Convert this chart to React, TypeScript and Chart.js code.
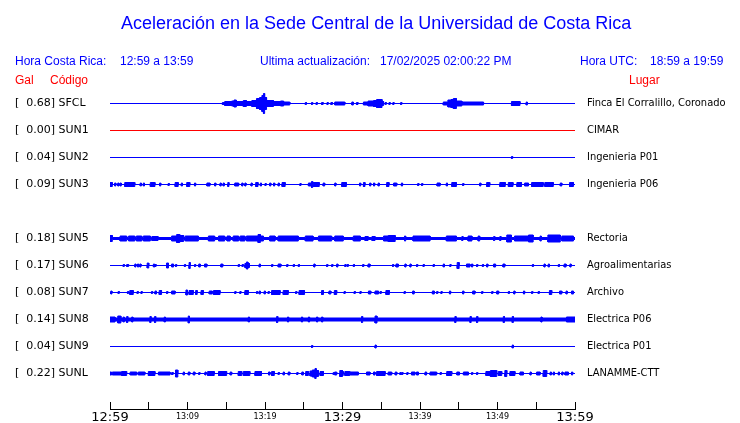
import React, { useEffect, useRef } from 'react';
import { Chart, registerables } from 'chart.js';

Chart.register(...registerables);

// ---- Data ----
const STATION_CODES = ['SFCL', 'SUN1', 'SUN2', 'SUN3', '', 'SUN5', 'SUN6', 'SUN7', 'SUN8', 'SUN9', 'SUNL'];
const PEAK_GAL = ['0.68', '0.00', '0.04', '0.09', '', '0.18', '0.17', '0.08', '0.14', '0.04', '0.22'];
const PLACES = [
  'Finca El Corralillo, Coronado', 'CIMAR', 'Ingenieria P01', 'Ingenieria P06', '',
  'Rectoria', 'Agroalimentarias', 'Archivo', 'Electrica P06', 'Electrica P01', 'LANAMME-CTT',
];
const TIME_TICKS = [0, 5, 10, 15, 20, 25, 30, 35, 40, 45, 50, 55, 60];
const TIME_LABELS = ['12:59', '', '13:09', '', '13:19', '', '13:29', '', '13:39', '', '13:49', '', '13:59'];
const MAJOR_LABELS = ['12:59', '13:29', '13:59'];

// background (quiet) amplitude of each trace
const BASE_AMP = [0, 0, 0, 0, 0, 1, 0, 0, 1.5, 0, 0];

// bursts: [start minute, duration minutes, amplitude]
type Burst = [number, number, number];
const SFCL: Burst[] = [
  [14.5, 0.3, 1], [14.8, 0.9, 2], [15.7, 0.3, 2.5], [16.0, 0.3, 3.5], [16.3, 0.9, 2], [17.2, 0.4, 3],
  [17.6, 0.7, 2], [18.3, 0.6, 3], [18.9, 0.4, 5], [19.3, 0.3, 6], [19.6, 0.2, 8], [19.8, 0.15, 10],
  [19.95, 0.25, 6], [20.2, 0.9, 3], [21.1, 0.9, 2], [22.0, 0.4, 2.5], [22.4, 0.8, 1.5],
  [25.2, 0.15, 1], [26.0, 0.15, 1], [26.6, 0.15, 1], [27.3, 0.2, 1], [28.0, 0.15, 1], [28.5, 0.2, 1],
  [29.0, 1.3, 1.5], [31.2, 0.2, 1.5], [31.8, 0.2, 1], [32.7, 0.6, 1.5], [33.3, 0.7, 2.5], [34.0, 0.4, 3],
  [34.4, 0.7, 4], [35.1, 0.2, 2], [35.5, 0.15, 1], [36.0, 0.15, 1], [36.5, 0.15, 1], [37.5, 0.15, 1],
  [43.0, 0.6, 1.5], [43.6, 0.4, 3.5], [44.0, 0.3, 4], [44.3, 0.4, 5], [44.7, 0.7, 2.5], [45.4, 2.8, 1.5],
  [51.8, 1.1, 2], [53.7, 0.15, 1.5],
];
const SUN1: Burst[] = [];
const SUN2: Burst[] = [[51.8, 0.15, 1]];
const SUN3: Burst[] = [
  [0, 0.3, 2], [0.6, 0.15, 1.5], [1.0, 0.15, 1.5], [1.3, 0.15, 1.5], [1.9, 1.3, 2], [3.9, 0.15, 1.5],
  [4.3, 0.15, 1.5], [5.2, 0.6, 2], [6.4, 0.15, 1.5], [7.5, 0.15, 1], [8.4, 0.4, 2], [9.2, 0.15, 1.5],
  [9.9, 0.4, 2], [10.9, 0.15, 1.5], [12.5, 0.4, 1.5], [13.5, 0.15, 1.5], [14.2, 0.15, 1.5], [14.6, 0.15, 1.5],
  [15.2, 0.15, 2], [16.1, 0.5, 1.5], [17.0, 0.15, 1.5], [17.4, 0.15, 1.5], [18.2, 0.15, 1.5], [18.8, 0.3, 2],
  [19.4, 0.15, 1.5], [20.0, 0.15, 1], [20.6, 0.15, 1.5], [21.1, 0.15, 1.5], [21.7, 0.15, 1.5], [22.2, 0.4, 2],
  [24.5, 0.15, 1], [25.6, 0.4, 1.5], [26.0, 0.15, 3], [26.2, 0.8, 2], [27.5, 0.2, 1.5], [29.0, 0.15, 1.5],
  [29.9, 0.6, 2], [32.2, 0.15, 1.5], [32.7, 0.2, 2], [33.5, 0.15, 1.5], [34.0, 0.15, 1.5], [34.6, 0.15, 1.5],
  [35.7, 0.3, 2], [36.6, 0.4, 1.5], [37.6, 0.15, 1.5], [39.7, 0.15, 1], [40.2, 0.15, 1], [42.2, 0.4, 1.5],
  [43.4, 0.15, 1.5], [44.1, 0.6, 2], [45.5, 0.15, 1], [47.7, 0.15, 1.5], [48.6, 0.4, 2], [50.3, 0.7, 2],
  [51.4, 0.6, 2], [52.5, 0.6, 2], [53.5, 0.5, 1.5], [54.4, 1.5, 2], [56.1, 1.1, 2], [58.1, 0.2, 1.5], [59.3, 0.5, 2],
];
const SUN5: Burst[] = [
  [0, 0.3, 3], [1.3, 0.85, 2.5], [2.4, 0.8, 2.5], [3.4, 0.7, 2.5], [4.3, 0.9, 2.5], [5.4, 0.8, 2],
  [7.95, 0.65, 2.5], [8.6, 0.4, 4], [9.0, 0.5, 3], [9.7, 1.7, 2.5], [12.7, 0.8, 2.5], [14.0, 0.8, 2.5],
  [15.1, 0.4, 2.5], [15.9, 0.7, 2.5], [16.8, 0.6, 2.5], [17.6, 1.5, 2.5], [19.1, 0.3, 4], [19.4, 0.4, 2.5],
  [20.6, 0.7, 2.5], [21.7, 2.6, 2.5], [25.2, 1.0, 2.5], [26.9, 1.7, 2.5], [29.0, 1.1, 2.5], [31.4, 0.9, 2.5],
  [32.9, 0.4, 2], [33.8, 0.4, 2], [35.3, 0.6, 2.5], [35.9, 0.9, 3], [38.0, 0.15, 2.5], [39.1, 2.2, 2.5],
  [43.4, 1.3, 2.5], [45.4, 0.15, 2], [46.2, 0.5, 2.5], [47.5, 0.2, 2.5], [49.5, 0.15, 2], [50.3, 0.15, 2],
  [51.2, 0.6, 3.5], [52.2, 1.8, 2.5], [54.0, 0.6, 3.5], [55.5, 0.15, 2.5], [56.5, 1.6, 3.5], [58.3, 1.5, 2.5],
];
const SUN6: Burst[] = [
  [1.7, 0.15, 1], [2.15, 0.25, 1], [3.2, 0.15, 1.5], [3.55, 0.15, 1.5], [3.85, 0.15, 1.5], [4.8, 0.2, 2.5],
  [5.6, 0.15, 1.5], [5.8, 0.15, 1], [7.3, 0.25, 2.5], [7.95, 0.25, 1.5], [8.45, 0.15, 1], [9.6, 0.15, 1],
  [10.2, 0.15, 3], [10.9, 0.15, 1], [11.45, 0.2, 1.5], [12.2, 0.3, 1.5], [14.3, 0.25, 1.5], [16.55, 0.15, 1],
  [17.05, 0.15, 1], [17.4, 0.2, 2], [17.6, 0.2, 3.5], [17.8, 0.2, 2], [19.25, 0.15, 1.5], [20.85, 0.15, 1],
  [21.7, 0.35, 1.5], [22.8, 0.15, 1], [23.65, 0.15, 1], [24.3, 0.15, 1], [26.3, 0.15, 1.5], [27.95, 0.15, 1],
  [28.6, 0.15, 1], [29.25, 0.15, 1.5], [30.3, 0.15, 1], [30.6, 0.15, 1], [31.4, 0.15, 1], [32.6, 0.15, 1],
  [33.3, 0.25, 1.5], [36.45, 0.15, 1], [36.9, 0.3, 1.5], [38.05, 0.15, 1.5], [38.7, 0.15, 1.5], [39.55, 0.15, 1],
  [40.4, 0.15, 1], [41.7, 0.15, 1], [43.0, 0.15, 1.5], [43.85, 0.15, 1], [44.8, 0.25, 3], [46.0, 0.45, 1.5],
  [46.65, 0.15, 1.5], [47.3, 0.15, 1], [48.05, 0.15, 1], [48.6, 0.15, 1.5], [49.5, 0.25, 1.5], [50.7, 0.25, 1.5],
  [54.5, 0.15, 1], [56.0, 0.15, 1.5], [56.55, 0.15, 1.5], [57.85, 0.15, 1], [58.6, 0.25, 1.5], [59.35, 0.15, 1.5],
];
const SUN7: Burst[] = [
  [0.1, 0.15, 1.5], [1.05, 0.15, 1], [2.25, 0.15, 1], [2.55, 0.45, 2], [3.5, 0.15, 1], [4.0, 0.15, 1],
  [5.35, 0.15, 1], [5.8, 0.2, 1.5], [6.35, 0.3, 2], [7.3, 0.15, 1], [7.95, 0.45, 1.5], [9.8, 0.2, 2.5],
  [10.2, 0.55, 2], [11.05, 0.2, 2], [11.75, 0.3, 2], [12.8, 0.4, 1.5], [13.35, 0.85, 2], [16.1, 0.15, 1],
  [16.75, 0.15, 1], [17.4, 0.45, 2], [18.9, 0.15, 1], [19.25, 0.15, 1.5], [19.9, 0.15, 1.5], [20.4, 0.15, 1],
  [20.85, 1.1, 2], [22.35, 0.65, 2], [23.95, 0.15, 1], [24.4, 0.7, 2], [27.3, 0.25, 2], [28.25, 0.25, 1.5],
  [28.95, 0.3, 2], [30.2, 0.15, 1], [31.5, 0.15, 1], [32.25, 0.15, 1], [33.35, 0.3, 1.5], [34.2, 0.45, 1.5],
  [34.85, 0.15, 1], [35.6, 0.45, 2], [37.95, 0.15, 1], [39.05, 0.2, 1.5], [41.6, 0.25, 1.5], [42.15, 0.15, 1],
  [42.7, 0.15, 1], [43.8, 0.15, 1.5], [45.5, 0.15, 1.5], [46.8, 0.3, 1.5], [47.95, 0.15, 1], [49.25, 0.15, 1],
  [49.9, 0.25, 1.5], [51.4, 0.15, 1], [52.1, 0.15, 1.5], [53.35, 0.15, 1.5], [54.4, 0.15, 1], [55.25, 0.15, 1],
  [56.7, 0.3, 2], [58.0, 0.3, 1.5], [58.85, 0.15, 1.5], [59.55, 0.25, 1.5],
];
const SUN8: Burst[] = [
  [0, 0.65, 2.5], [1.0, 0.4, 3.5], [1.7, 0.15, 2.5], [2.15, 0.15, 3], [2.8, 0.15, 2.5], [5.15, 0.15, 3],
  [5.75, 0.15, 3], [7.0, 0.15, 2.5], [10.1, 0.15, 3.5], [17.85, 0.15, 2.5], [21.5, 0.15, 3], [22.9, 0.15, 2.5],
  [24.7, 0.15, 2.5], [25.6, 0.15, 2.5], [26.65, 0.15, 2.5], [27.3, 0.15, 2.5], [32.45, 0.15, 3], [34.2, 0.25, 3.5],
  [44.5, 0.15, 3], [46.45, 0.15, 3], [47.3, 0.15, 3], [50.75, 0.15, 3], [51.9, 0.15, 3], [55.6, 0.15, 2.5],
  [58.9, 1.1, 2.5],
];
const SUN9: Burst[] = [[26.0, 0.15, 1], [34.2, 0.15, 1.5], [51.9, 0.15, 1.5]];
const SUNL: Burst[] = [
  [0, 0.2, 1.5], [0.3, 1.2, 1.5], [1.5, 0.65, 2], [2.6, 0.85, 1.5], [3.65, 0.85, 1.5], [4.95, 0.85, 2],
  [6.25, 1.5, 1.5], [7.95, 0.2, 1], [8.45, 0.3, 3.5], [9.45, 0.15, 1.5], [10.1, 0.2, 1.5], [10.75, 0.2, 1.5],
  [11.45, 0.15, 1], [12.25, 0.15, 1.5], [12.6, 0.85, 2], [14.0, 1.05, 2], [15.5, 0.2, 1.5], [16.55, 0.45, 2],
  [17.2, 0.85, 2], [18.7, 0.85, 2], [20.45, 0.2, 1.5], [20.85, 0.35, 2], [21.7, 0.15, 1], [22.35, 0.15, 1.5],
  [23.0, 0.2, 1.5], [24.1, 0.15, 1], [24.75, 0.2, 1.5], [25.25, 0.35, 2], [25.8, 0.3, 2.5], [26.1, 0.35, 3.5],
  [26.45, 0.15, 5], [26.6, 0.3, 3], [27.1, 0.45, 2], [28.8, 0.15, 1], [29.0, 0.25, 1.5], [29.65, 0.35, 3],
  [30.0, 0.1, 2], [30.3, 0.65, 2], [31.0, 1.05, 1.5], [33.1, 0.45, 1.5], [34.0, 0.2, 1.5], [34.4, 1.1, 2],
  [35.9, 0.45, 1.5], [36.8, 0.2, 1.5], [37.4, 0.15, 1], [37.65, 0.15, 1], [38.3, 0.15, 1], [38.9, 0.45, 1.5],
  [39.55, 0.25, 1.5], [40.65, 0.2, 1.5], [41.3, 0.85, 1.5], [42.6, 0.15, 1], [43.45, 0.65, 2], [44.75, 0.35, 1.5],
  [45.6, 0.65, 1.5], [46.65, 0.15, 1], [47.3, 0.15, 1], [48.5, 0.55, 2], [49.1, 0.8, 3], [50.1, 0.45, 2],
  [50.95, 0.25, 3], [51.6, 0.65, 2], [52.9, 0.45, 1.5], [54.2, 0.15, 1.5], [55.05, 0.45, 1.5], [55.9, 0.45, 3],
  [56.8, 0.15, 1.5], [57.2, 0.15, 1.5], [57.85, 0.15, 1.5], [58.3, 0.15, 1.5], [58.7, 0.45, 1.5], [59.55, 0.15, 1.5],
];
const TRACES: (Burst[] | null)[] = [SFCL, SUN1, SUN2, SUN3, null, SUN5, SUN6, SUN7, SUN8, SUN9, SUNL];

// ---- Styling ----
const BLUE = '#0000ff';
const RED = '#ff0000';
const TRACE_COLORS = [BLUE, RED, BLUE, BLUE, BLUE, BLUE, BLUE, BLUE, BLUE, BLUE, BLUE];
const ROW_MIN = -0.5;
const ROW_MAX = 319 / 27 - 0.5;
const AMP_UNIT = 1 / 27; // row units per amplitude count
const LABEL_FONT = 'DejaVu Sans';
const PLACE_FONT = '"DejaVu Sans Condensed", "DejaVu Sans"';

function envelope(row: number, bursts: Burst[], base: number, sign: number) {
  const y = (a: number) => row + sign * a * AMP_UNIT;
  const pts: { x: number; y: number }[] = [{ x: 0, y: y(base) }];
  for (const [s, d, a] of bursts) {
    const e = s + d;
    pts.push({ x: s, y: y(base) }, { x: s, y: y(a) }, { x: e, y: y(a) }, { x: e, y: y(base) });
  }
  pts.push({ x: 60, y: y(base) });
  return pts;
}

function fixBox(width: number | null, height: number | null) {
  return (scale: any) => {
    if (width !== null) scale.width = width;
    if (height !== null) scale.height = height;
    scale.paddingTop = 0;
    scale.paddingBottom = 0;
    scale.paddingLeft = 0;
    scale.paddingRight = 0;
  };
}

export default function App() {
  const canvasRef = useRef<HTMLCanvasElement | null>(null);

  useEffect(() => {
    if (!canvasRef.current) return;
    const datasets: any[] = [];
    TRACES.forEach((bursts, row) => {
      if (!bursts) return;
      const color = TRACE_COLORS[row];
      const common = {
        borderColor: color,
        backgroundColor: color,
        borderWidth: 1,
        pointRadius: 0,
        tension: 0,
        yAxisID: 'y',
      };
      datasets.push({ ...common, data: envelope(row, bursts, BASE_AMP[row], -1), fill: false });
      datasets.push({ ...common, data: envelope(row, bursts, BASE_AMP[row], 1), fill: '-1' });
    });

    const rowTicks = (scale: any) => {
      scale.ticks = STATION_CODES.map((_, i) => ({ value: i }));
    };

    const chart = new Chart(canvasRef.current, {
      type: 'line',
      data: { datasets },
      options: {
        animation: false,
        responsive: false,
        devicePixelRatio: 1,
        layout: { padding: { top: 90, left: 15, right: 0, bottom: 0 } },
        plugins: { legend: { display: false }, tooltip: { enabled: false }, title: { display: false } },
        scales: {
          x: {
            type: 'linear',
            min: 0,
            max: 60,
            afterBuildTicks: (scale: any) => {
              scale.ticks = TIME_TICKS.map((v) => ({ value: v }));
            },
            afterFit: fixBox(null, 14),
            border: { display: true, color: '#000', width: 1 },
            grid: { display: true, drawOnChartArea: false, drawTicks: true, tickLength: -7, color: '#000', lineWidth: 1 },
            ticks: {
              autoSkip: false,
              maxRotation: 0,
              padding: 8,
              color: '#000',
              callback: (_v: any, i: number) => TIME_LABELS[i],
              font: (ctx: any) =>
                MAJOR_LABELS.includes(TIME_LABELS[ctx.index])
                  ? { family: LABEL_FONT, size: 13, lineHeight: '16px' }
                  : { family: LABEL_FONT, size: 8, lineHeight: '13px' },
            },
          },
          y: {
            type: 'linear',
            position: 'left',
            reverse: true,
            min: ROW_MIN,
            max: ROW_MAX,
            afterBuildTicks: rowTicks,
            afterFit: fixBox(95, null),
            border: { display: false },
            grid: { display: false, drawTicks: false },
            ticks: {
              crossAlign: 'far',
              padding: 0,
              color: '#000',
              font: { family: LABEL_FONT, size: 11 },
              callback: (_v: any, i: number) => (STATION_CODES[i] ? `[  ${PEAK_GAL[i]}] ${STATION_CODES[i]}` : ''),
            },
          },
          y2: {
            type: 'linear',
            position: 'right',
            reverse: true,
            min: ROW_MIN,
            max: ROW_MAX,
            afterBuildTicks: rowTicks,
            afterFit: fixBox(165, null),
            border: { display: false },
            grid: { display: false, drawTicks: false },
            ticks: {
              padding: 12,
              color: '#000',
              font: { family: PLACE_FONT, size: 11 },
              callback: (_v: any, i: number) => PLACES[i],
            },
          },
        },
      } as any,
    });
    return () => chart.destroy();
  }, []);

  const txt = (left: number, top: number, size: number, color: string, text: string) => (
    <div
      style={{
        position: 'absolute',
        left,
        top,
        fontFamily: '"Liberation Sans", Arial, sans-serif',
        fontSize: size,
        lineHeight: `${size}px`,
        color,
        whiteSpace: 'pre',
      }}
    >
      {text}
    </div>
  );

  return (
    <div style={{ position: 'fixed', left: 0, top: 0, width: 740, height: 423, background: '#fff', overflow: 'hidden' }}>
      <canvas ref={canvasRef} width={740} height={423} style={{ display: 'block', position: 'absolute', left: 0, top: 0 }} />
      {txt(121, 14, 18, BLUE, 'Aceleración en la Sede Central de la Universidad de Costa Rica')}
      {txt(15, 55, 12, BLUE, 'Hora Costa Rica:')}
      {txt(120, 55, 12, BLUE, '12:59 a 13:59')}
      {txt(260, 55, 12, BLUE, 'Ultima actualización:')}
      {txt(380, 55, 12, BLUE, '17/02/2025 02:00:22 PM')}
      {txt(580, 55, 12, BLUE, 'Hora UTC:')}
      {txt(650, 55, 12, BLUE, '18:59 a 19:59')}
      {txt(15, 74, 12, RED, 'Gal')}
      {txt(50, 74, 12, RED, 'Código')}
      {txt(629, 74, 12, RED, 'Lugar')}
    </div>
  );
}
